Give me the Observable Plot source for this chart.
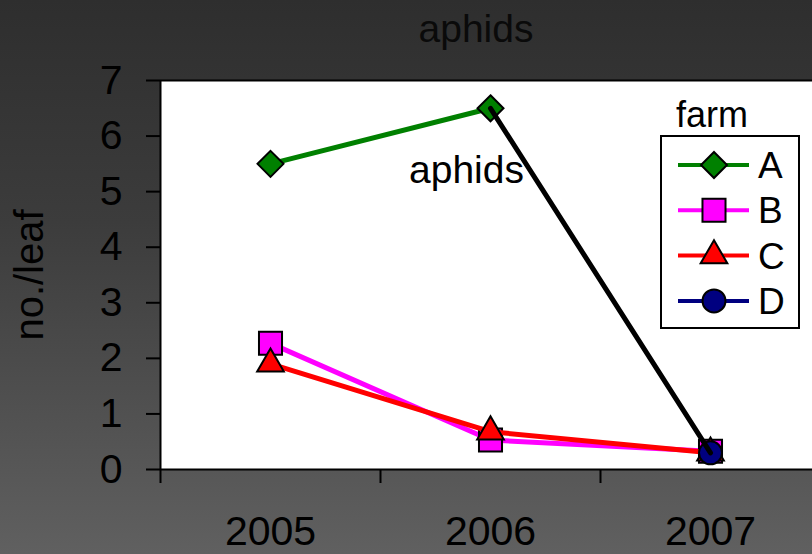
<!DOCTYPE html>
<html>
<head>
<meta charset="utf-8">
<script src="https://cdn.jsdelivr.net/npm/d3@7"></script>
<script src="https://cdn.jsdelivr.net/npm/@observablehq/plot@0.6"></script>
<style>
  html, body { margin: 0; padding: 0; overflow: hidden; }
  #wrap {
    position: relative; width: 812px; height: 554px; overflow: hidden;
    background: linear-gradient(to bottom, #2e2e2e 0%, #3c3c3c 40%, #606060 100%);
    font-family: "Liberation Sans", Arial, sans-serif;
  }
  #title {
    position: absolute; left: 0; top: 10px; width: 952px; text-align: center;
    font-size: 39px; line-height: 38px; color: #0a0a0a;
  }
  #chart { position: absolute; left: 0; top: 0; }
  #legend { position: absolute; left: 0; top: 0; }
</style>
</head>
<body>
<div id="wrap">
  <div id="chart"></div>
  <div id="title">aphids</div>
  <div id="legend"></div>
</div>
<script>
// ---- data ----
const years = [2005, 2006, 2007];
const farms = ["A", "B", "C", "D"];
const valuesA = [5.5, 6.5, null];
const valuesB = [2.27, 0.53, 0.33];
const valuesC = [1.9, 0.68, 0.3];
const valuesD = [null, null, 0.3];
const aphidsLineYears = [2006, 2007];
const aphidsLineValues = [6.5, 0.3];
const yTicks = [0, 1, 2, 3, 4, 5, 6, 7];
const annotationText = "aphids";
const annotationYear = 2006;
const annotationValue = 5.38;
const legendTitle = "farm";
const yLabel = "no./leaf";

// ---- styling ----
const farmColors = ["#008000", "#ff00ff", "#ff0000", "#000080"];
const farmSymbols = ["diamond2", "square", "triangle", "circle"];
const farmRadii = [11.7, 13, 9.9, 11.5];

const seriesValues = [valuesA, valuesB, valuesC, valuesD];
const seriesRows = seriesValues.map(vals =>
  years.map((yr, i) => ({year: yr, value: vals[i]})).filter(d => d.value != null)
);
const aphidsRows = aphidsLineYears.map((yr, i) => ({year: yr, value: aphidsLineValues[i]}));

const xLo = years[0] - 0.5, xHi = years[years.length - 1] + 0.5;
const boundaries = d3.range(xLo, xHi + 0.001, 1);

const marks = [
  Plot.rect([{x1: xLo, x2: xHi, y1: 0, y2: yTicks[yTicks.length - 1]}],
    {x1: "x1", x2: "x2", y1: "y1", y2: "y2", fill: "white"}),
  Plot.ruleY([yTicks[yTicks.length - 1]], {stroke: "black", strokeWidth: 2}),
  Plot.ruleX([xLo], {stroke: "black", strokeWidth: 2}),
  Plot.ruleY([0], {stroke: "black", strokeWidth: 2})
];
seriesRows.forEach((rows, k) => {
  if (rows.length > 1) {
    marks.push(Plot.line(rows, {x: "year", y: "value", stroke: farmColors[k], strokeWidth: 5}));
  }
  marks.push(Plot.dot(rows, {
    x: "year", y: "value", symbol: farmSymbols[k], r: farmRadii[k],
    fill: farmColors[k], stroke: "black", strokeWidth: 2
  }));
});
marks.push(Plot.line(aphidsRows, {x: "year", y: "value", stroke: "black", strokeWidth: 5}));
marks.push(Plot.text([annotationText], {
  x: () => annotationYear, y: () => annotationValue, dx: -24,
  fontSize: 39, fill: "black"
}));
marks.push(Plot.axisY({
  ticks: yTicks, tickSize: 14, tickPadding: 24, fontSize: 41, tickFormat: d => String(d),
  label: null, strokeWidth: 2, stroke: "black", fill: "black"
}));
marks.push(Plot.axisX({
  ticks: boundaries, tickSize: 14, tickFormat: () => "",
  label: null, strokeWidth: 2, stroke: "black"
}));
marks.push(Plot.axisX({
  ticks: years, tickSize: 0, tickPadding: 46, tickFormat: d => String(d),
  fontSize: 41, label: null, fill: "black"
}));
marks.push(Plot.text([yLabel], {
  frameAnchor: "left", textAnchor: "middle", dx: -130, rotate: -90, fontSize: 40, fill: "black"
}));

const chart = Plot.plot({
  width: 812,
  height: 554,
  marginTop: 80,
  marginBottom: 85,
  marginLeft: 160,
  marginRight: -8,
  x: {domain: [xLo, xHi], range: [160, 820]},
  y: {domain: [0, yTicks[yTicks.length - 1]]},
  style: {
    background: "transparent",
    color: "black",
    fontFamily: "'Liberation Sans', Arial, sans-serif",
    overflow: "hidden"
  },
  marks
});
document.getElementById("chart").appendChild(chart);

// ---- legend ----
const lg = d3.select("#legend").append("svg")
  .attr("width", 812).attr("height", 554)
  .style("overflow", "hidden");
lg.append("text").attr("x", 676).attr("y", 127)
  .attr("font-size", 36).attr("font-family", "'Liberation Sans', Arial, sans-serif")
  .attr("fill", "black").text(legendTitle);
lg.append("rect").attr("x", 661).attr("y", 136).attr("width", 138).attr("height", 192)
  .attr("fill", "white").attr("stroke", "black").attr("stroke-width", 2);
const symMap = {diamond2: d3.symbolDiamond2, square: d3.symbolSquare, triangle: d3.symbolTriangle, circle: d3.symbolCircle};
farms.forEach((f, i) => {
  const cy = 165 + i * 45.3;
  lg.append("line").attr("x1", 678).attr("x2", 749).attr("y1", cy).attr("y2", cy)
    .attr("stroke", farmColors[i]).attr("stroke-width", 4);
  lg.append("path")
    .attr("d", d3.symbol(symMap[farmSymbols[i]], Math.PI * farmRadii[i] * farmRadii[i])())
    .attr("transform", `translate(714,${cy})`)
    .attr("fill", farmColors[i]).attr("stroke", "black").attr("stroke-width", 2);
  lg.append("text").attr("x", 758).attr("y", cy + 13)
    .attr("font-size", 37).attr("font-family", "'Liberation Sans', Arial, sans-serif")
    .attr("fill", "black").text(f);
});
</script>
</body>
</html>
